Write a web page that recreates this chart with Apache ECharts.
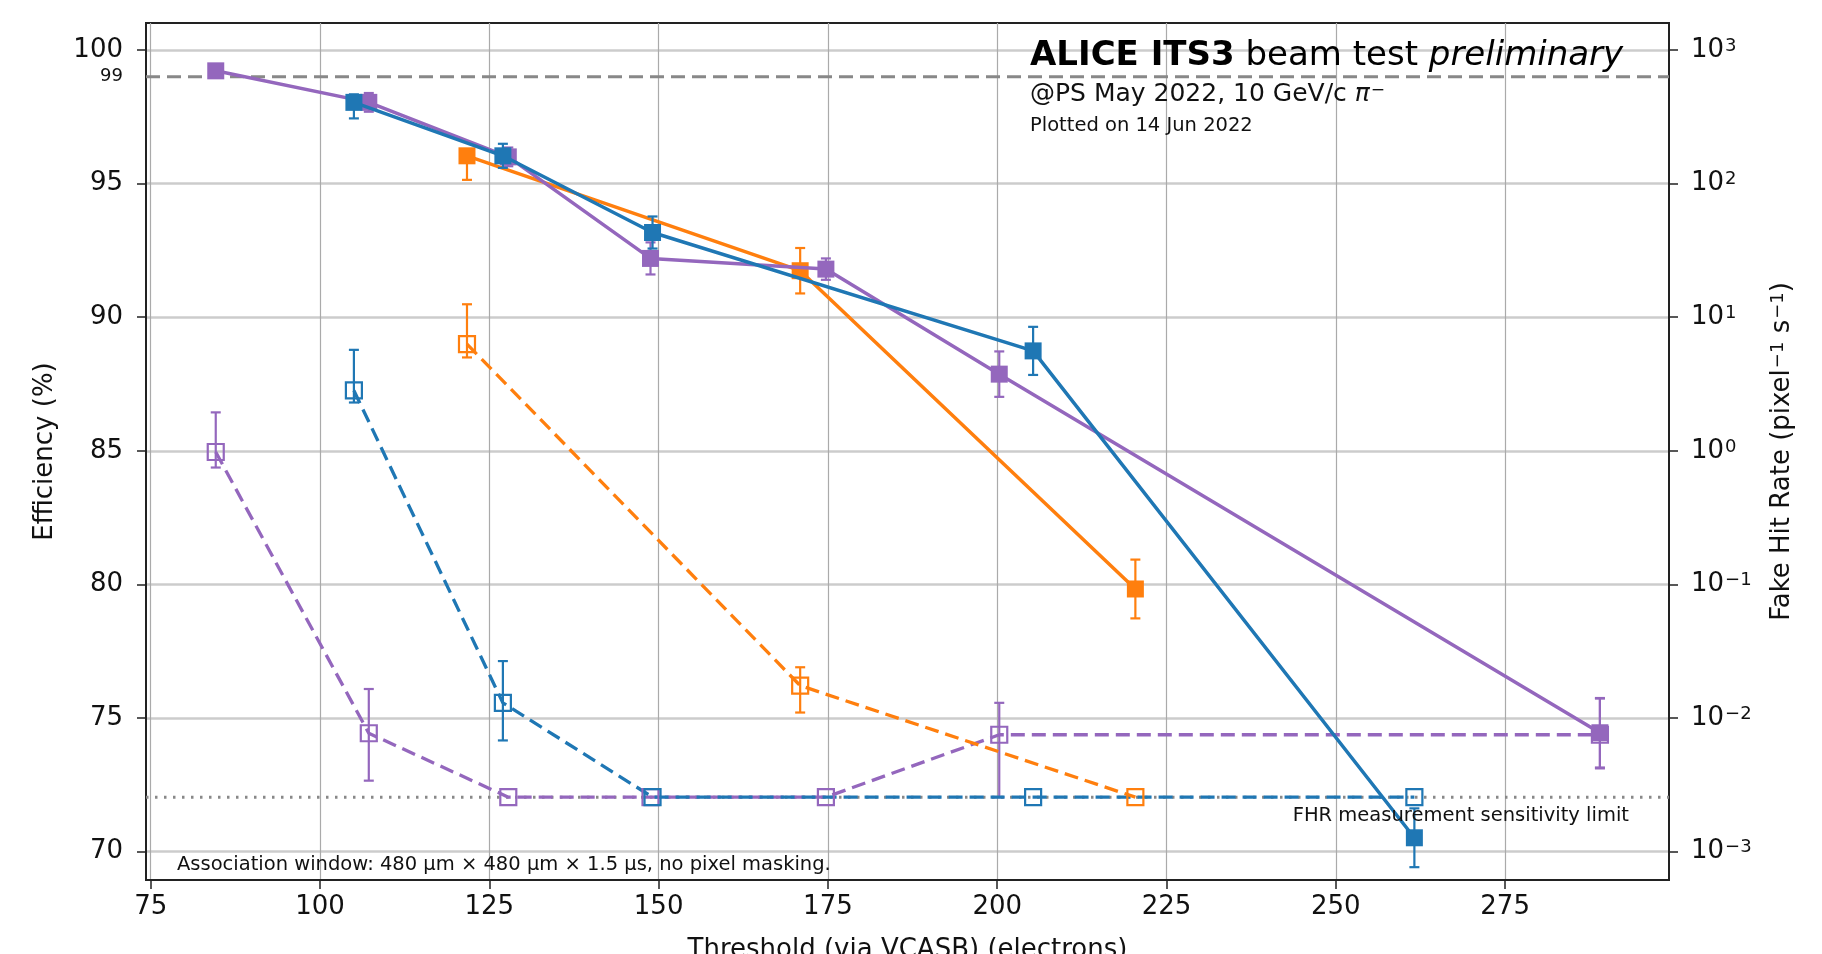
<!DOCTYPE html>
<html>
<head>
<meta charset="utf-8">
<script src="https://cdn.jsdelivr.net/npm/echarts@6/dist/echarts.min.js"></script>
<style>
html,body{margin:0;padding:0;background:#fff;}
#chart{width:1822px;height:954px;}
</style>
</head>
<body>
<div id="chart"></div>
<script>
// ---- data ----
const xTicks = [75, 100, 125, 150, 175, 200, 225, 250, 275];
const effTicks = [70, 75, 80, 85, 90, 95, 100];
const effLabelTicks = [70, 75, 80, 85, 90, 95, 99, 100];
const fhrTicks = [1e-3, 1e-2, 1e-1, 1, 10, 100, 1000];

const fhrLimit = 2.56e-3;   // FHR measurement sensitivity limit
const effRef = 99;          // 99 % reference line

// chip "blue"
const blueX      = [105.0, 127.0, 149.1, 205.3, 261.6];
const blueEff    = [98.04, 96.04, 93.17, 88.74, 70.52];
const blueEffErrLo = [0.6, 0.45, 0.6, 0.9, 1.1];
const blueEffErrHi = [0.3, 0.45, 0.6, 0.9, 1.1];
const blueFhr    = [2.83, 0.013, 2.56e-3, 2.56e-3, 2.56e-3];
const blueFhrLo  = [2.3, 6.8e-3, null, null, null];
const blueFhrHi  = [5.7, 0.0267, null, null, null];

// chip "orange"
const orangeX      = [121.7, 170.9, 220.4];
const orangeEff    = [96.04, 91.74, 79.83];
const orangeEffErrLo = [0.9, 0.85, 1.1];
const orangeEffErrHi = [0.2, 0.85, 1.1];
const orangeFhr    = [6.3, 0.0175, 2.56e-3];
const orangeFhrLo  = [5.0, 0.011, null];
const orangeFhrHi  = [12.5, 0.024, null];

// chip "purple"
const purpleX      = [84.6, 107.2, 127.8, 148.8, 174.7, 200.3, 289.0];
const purpleEff    = [99.22, 98.04, 96.0, 92.2, 91.8, 87.87, 74.45];
const purpleEffErrLo = [0.2, 0.35, 0.35, 0.6, 0.4, 0.85, 1.3];
const purpleEffErrHi = [0.2, 0.35, 0.35, 0.6, 0.4, 0.85, 1.3];
const purpleFhr    = [0.98, 7.7e-3, 2.56e-3, 2.56e-3, 2.56e-3, 7.5e-3, 7.5e-3];
const purpleFhrLo  = [0.75, 3.4e-3, null, null, null, 2.56e-3, 4.2e-3];
const purpleFhrHi  = [1.94, 0.0165, null, null, null, 0.013, 0.014];

// ---- layout / style ----
const FONT = 'DejaVu Sans';
const C_BLUE = '#1f77b4', C_ORANGE = '#ff7f0e', C_PURPLE = '#9467bd';
const X_MIN = 74.3, X_MAX = 299.2;
const EFF_MIN = 68.94, EFF_MAX = 101.01;
const FHR_MIN = Math.pow(10, -3.212), FHR_MAX = Math.pow(10, 3.202);

function pow10Label(v){
  const e = Math.round(Math.log10(v));
  return '{n|10}{s|' + String(e).replace('-', '\u2212') + '}';
}

function errRender(params, api){
  const x = api.value(0), lo = api.value(1), hi = api.value(2);
  const p1 = api.coord([x, lo]), p2 = api.coord([x, hi]);
  const cap = 5;
  const style = {stroke: api.visual('color'), lineWidth: 2.2};
  return {type:'group', children:[
    {type:'line', shape:{x1:p1[0], y1:p1[1], x2:p2[0], y2:p2[1]}, style},
    {type:'line', shape:{x1:p1[0]-cap, y1:p1[1], x2:p1[0]+cap, y2:p1[1]}, style},
    {type:'line', shape:{x1:p2[0]-cap, y1:p2[1], x2:p2[0]+cap, y2:p2[1]}, style}
  ]};
}

function effSeries(name, color, xs, ys, z){
  return {
    name, type:'line', xAxisIndex:0, yAxisIndex:0, z,
    data: xs.map((x,i)=>[x, ys[i]]),
    symbol:'rect', symbolSize:17,
    itemStyle:{color},
    lineStyle:{color, width:3.5},
    emphasis:{disabled:true}
  };
}
function effErr(color, xs, ys, lo, hi, z){
  return {
    type:'custom', xAxisIndex:0, yAxisIndex:0, z,
    renderItem: errRender, itemStyle:{color},
    encode:{x:0, y:[1,2]},
    data: xs.map((x,i)=>[x, ys[i]-lo[i], ys[i]+hi[i]])
  };
}
function fhrSeries(name, color, xs, ys, z){
  return {
    name, type:'line', xAxisIndex:0, yAxisIndex:1, z,
    data: xs.map((x,i)=>[x, ys[i]]),
    symbol:'rect', symbolSize:16,
    itemStyle:{color:'rgba(255,255,255,0)', borderColor:color, borderWidth:2.2},
    lineStyle:{color, width:3.3, type:[14,7]},
    emphasis:{disabled:true}
  };
}
function fhrErr(color, xs, lo, hi, z){
  const d = [];
  xs.forEach((x,i)=>{ if(lo[i] !== null) d.push([x, lo[i], hi[i]]); });
  return {
    type:'custom', xAxisIndex:0, yAxisIndex:1, z,
    renderItem: errRender, itemStyle:{color},
    encode:{x:0, y:[1,2]},
    data: d
  };
}

const series = [
  {
    name:'FHR limit', type:'line', xAxisIndex:0, yAxisIndex:1, z:2,
    data:[[X_MIN, fhrLimit], [X_MAX, fhrLimit]],
    symbol:'none', silent:true,
    lineStyle:{color:'#888888', width:3, type:[2.5,6.5]}
  },
  fhrSeries('purple FHR', C_PURPLE, purpleX, purpleFhr, 3),
  fhrErr(C_PURPLE, purpleX, purpleFhrLo, purpleFhrHi, 3),
  fhrSeries('blue FHR', C_BLUE, blueX, blueFhr, 3),
  fhrErr(C_BLUE, blueX, blueFhrLo, blueFhrHi, 3),
  fhrSeries('orange FHR', C_ORANGE, orangeX, orangeFhr, 3),
  fhrErr(C_ORANGE, orangeX, orangeFhrLo, orangeFhrHi, 3),
  {
    name:'99 % line', type:'line', xAxisIndex:0, yAxisIndex:0, z:2,
    data:[[X_MIN, effRef], [X_MAX, effRef]],
    symbol:'none', silent:true,
    lineStyle:{color:'#888888', width:3, type:[14,7]}
  },
  effSeries('orange', C_ORANGE, orangeX, orangeEff, 4),
  effErr(C_ORANGE, orangeX, orangeEff, orangeEffErrLo, orangeEffErrHi, 4),
  effSeries('purple', C_PURPLE, purpleX, purpleEff, 5),
  effErr(C_PURPLE, purpleX, purpleEff, purpleEffErrLo, purpleEffErrHi, 5),
  effSeries('blue', C_BLUE, blueX, blueEff, 6),
  effErr(C_BLUE, blueX, blueEff, blueEffErrLo, blueEffErrHi, 6)
];

const supRich = {
  n:{fontSize:26, color:'#111', fontFamily:FONT},
  s:{fontSize:18, color:'#111', fontFamily:FONT, verticalAlign:'top', padding:[0,0,0,1]}
};

const chart = echarts.init(document.getElementById('chart'), null, {renderer:'canvas'});
chart.setOption({
  animation:false,
  backgroundColor:'#ffffff',
  textStyle:{fontFamily:FONT},
  grid:{left:146, right:153, top:23, bottom:74, containLabel:false, outerBoundsMode:'none',
        show:true, borderColor:'#222', borderWidth:2, backgroundColor:'rgba(0,0,0,0)'},
  xAxis:[{
    type:'value', min:X_MIN, max:X_MAX,
    name:'Threshold (via VCASB) (electrons)', nameLocation:'middle', nameGap:57,
    nameTextStyle:{fontSize:26, color:'#111', fontFamily:FONT},
    axisLine:{show:true, lineStyle:{color:'#222', width:2}},
    axisTick:{show:true, length:9, inside:false, customValues:xTicks, lineStyle:{color:'#222', width:1.5}},
    axisLabel:{customValues:xTicks, fontSize:26, color:'#111', margin:14, fontFamily:FONT},
    splitLine:{show:true, lineStyle:{color:'#aaaaaa', width:1.2}}
  }],
  yAxis:[{
    type:'value', position:'left', min:EFF_MIN, max:EFF_MAX,
    name:'Efficiency (%)', nameLocation:'middle', nameGap:88,
    nameTextStyle:{fontSize:26, color:'#111', fontFamily:FONT},
    axisLine:{show:true, lineStyle:{color:'#222', width:2}},
    axisTick:{show:true, length:9, customValues:effTicks, lineStyle:{color:'#222', width:1.5}},
    axisLabel:{customValues:effLabelTicks, fontSize:26, color:'#111', margin:23, fontFamily:FONT,
      formatter:(v)=> v === effRef ? '{s|99}' : String(v),
      rich:{s:{fontSize:18, color:'#111', fontFamily:FONT}}},
    splitLine:{show:true, lineStyle:{color:'#cccccc', width:2.5}}
  },{
    type:'log', logBase:10, position:'right', min:FHR_MIN, max:FHR_MAX,
    name:'{n|Fake Hit Rate (pixel}{s|\u22121}{n| s}{s|\u22121}{n|)}', nameLocation:'middle', nameGap:100,
    nameTextStyle:{fontSize:26, color:'#111', fontFamily:FONT, rich:supRich},
    axisLine:{show:true, lineStyle:{color:'#222', width:2}},
    axisTick:{show:true, length:9, customValues:fhrTicks, lineStyle:{color:'#222', width:1.5}},
    axisLabel:{customValues:fhrTicks, fontSize:26, color:'#111', margin:22, fontFamily:FONT,
      formatter:(v)=> pow10Label(v), rich:supRich},
    splitLine:{show:false}
  }],
  series,
  graphic:[
    {type:'text', left:1030, top:39, z:100, style:{
      text:'{b|ALICE ITS3}{r| beam test }{i|preliminary}',
      rich:{
        b:{fontSize:34, fontWeight:'bold', fontFamily:FONT, fill:'#000'},
        r:{fontSize:34, fontFamily:FONT, fill:'#000'},
        i:{fontSize:34, fontStyle:'italic', fontFamily:FONT, fill:'#000'}
      }}},
    {type:'text', left:1030, top:82, z:100, style:{
      text:'{n|@PS May 2022, 10 GeV/c }{p|\u03C0}{s|\u2212}',
      rich:{
        n:{fontSize:25, fontFamily:FONT, fill:'#111'},
        p:{fontSize:25, fontFamily:FONT, fontStyle:'italic', fill:'#111'},
        s:{fontSize:17, fontFamily:FONT, fill:'#111', verticalAlign:'top', padding:[0,0,0,1]}
      }}},
    {type:'text', left:1030, top:116, z:100, style:{text:'Plotted on 14 Jun 2022', fontSize:19.5, fontFamily:FONT, fill:'#111'}},
    {type:'text', left:177, top:855, z:100, style:{text:'Association window: 480 \u03BCm \u00D7 480 \u03BCm \u00D7 1.5 \u03BCs, no pixel masking.', fontSize:19.5, fontFamily:FONT, fill:'#111'}},
    {type:'text', right:1822-1629, top:806, z:100, style:{text:'FHR measurement sensitivity limit', fontSize:19.5, fontFamily:FONT, fill:'#111'}}
  ]
});
</script>
</body>
</html>
